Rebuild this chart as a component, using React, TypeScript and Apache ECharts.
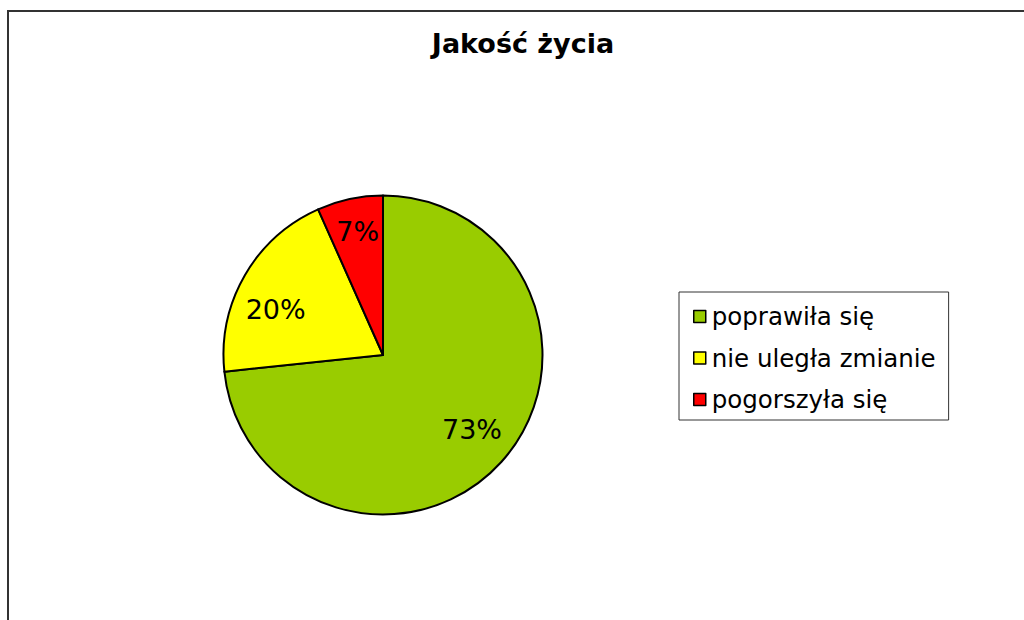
import React, { useEffect, useRef } from "react";
import * as echarts from "echarts";

const titleText = "Jakość życia";
const categories = ["poprawiła się", "nie uległa zmianie", "pogorszyła się"];
const values = [110, 30, 10];
const colors = ["#99CC00", "#FFFF00", "#FF0000"];
const labelOffsets: [number, number][] = [[2, -4], [-6, 13], [-1, -9]];

export default function App() {
  const ref = useRef<HTMLDivElement>(null);
  useEffect(() => {
    if (!ref.current) return;
    const chart = echarts.init(ref.current, null, { renderer: "svg" });
    const total = values.reduce((a, b) => a + b, 0);
    chart.setOption({
      animation: false,
      backgroundColor: "#ffffff",
      title: {
        text: titleText,
        left: 523,
        top: 30,
        textAlign: "center",
        padding: 0,
        textStyle: { fontFamily: "DejaVu Sans", fontSize: 27, fontWeight: "bold", color: "#000" },
      },
      graphic: [
        {
          type: "rect",
          shape: { x: 8, y: 11, width: 1100, height: 700 },
          style: { fill: "none", stroke: "#333333", lineWidth: 2 },
          silent: true,
        },
      ],
      legend: {
        orient: "vertical",
        left: 679,
        top: 292,
        data: categories,
        padding: [12, 13, 8, 14],
        itemGap: 16.5,
        itemWidth: 12,
        itemHeight: 12,
        icon: "rect",
        backgroundColor: "#ffffff",
        borderColor: "#333333",
        borderWidth: 1,
        borderRadius: 0,
        itemStyle: { borderColor: "#000", borderWidth: 1.5 },
        textStyle: {
          fontFamily: "DejaVu Sans",
          fontSize: 24.5,
          lineHeight: 24,
          color: "#000",
          padding: [0, 0, 0, 1],
        },
        selectedMode: false,
      },
      series: [
        {
          type: "pie",
          center: [383, 355],
          radius: [0, 159.5],
          startAngle: 90,
          clockwise: true,
          silent: true,
          label: { show: false },
          labelLine: { show: false },
          itemStyle: { borderColor: "#000", borderWidth: 2 },
          data: categories.map((name, i) => ({ name, value: values[i], itemStyle: { color: colors[i] } })),
        },
        {
          type: "pie",
          center: [383, 355],
          radius: [68, 160],
          startAngle: 90,
          clockwise: true,
          silent: true,
          itemStyle: { color: "rgba(0,0,0,0)", borderWidth: 0 },
          labelLine: { show: false },
          label: {
            show: true,
            position: "inside",
            fontFamily: "DejaVu Sans",
            fontSize: 27,
            color: "#000",
            formatter: (p: any) => Math.round((p.value / total) * 100) + "%",
          },
          data: categories.map((name, i) => ({
            name,
            value: values[i],
            label: { offset: labelOffsets[i] },
          })),
        },
      ],
    });
    return () => chart.dispose();
  }, []);
  return (
    <div
      ref={ref}
      style={{ position: "absolute", left: 0, top: 0, width: 1024, height: 620 }}
    />
  );
}
